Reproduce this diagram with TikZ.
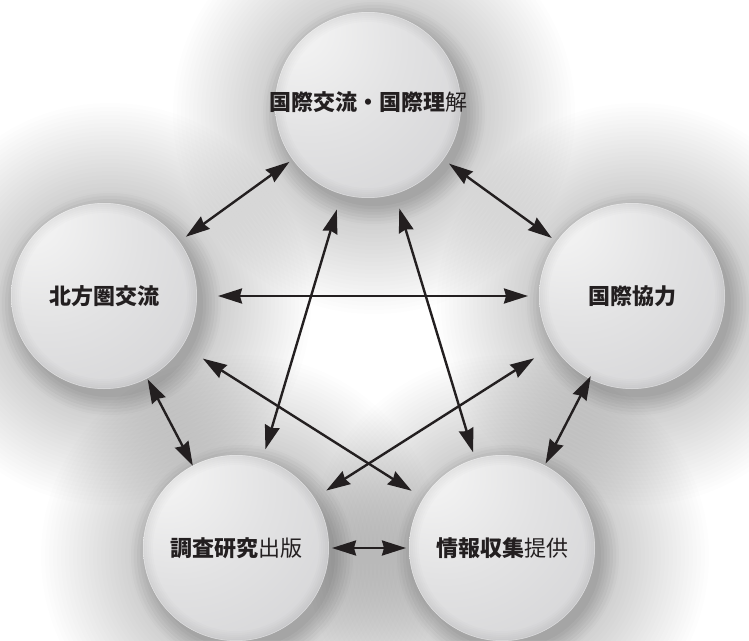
\documentclass[tikz,border=0pt]{standalone}
\usepackage{fontspec}
\newfontfamily\jp{Noto Sans CJK JP}
\usetikzlibrary{arrows.meta}
\definecolor{ink}{HTML}{231F20}
\definecolor{spA}{HTML}{F3F3F3}
\definecolor{spB}{HTML}{E2E2E3}
\definecolor{spC}{HTML}{D5D5D7}
\definecolor{spD}{HTML}{C6C6C9}
\definecolor{spE}{HTML}{B0B0B4}
\pgfdeclareradialshading{sph}{\pgfpoint{-22bp}{23bp}}{color(0bp)=(spA); color(5bp)=(spA); color(25bp)=(spB); color(45bp)=(spC); color(62bp)=(spD); color(82bp)=(spE)}
\tikzset{
  ball/.style={circle, minimum size=186pt, inner sep=0pt, outer sep=0pt, shade, shading=sph},
  lbl/.style={font=\jp\fontsize{22}{22}\selectfont, text=ink, inner sep=0pt},
  link/.style={draw=ink, line width=2.4pt, {Stealth[length=24pt 0 0,width=15pt 0 0,inset=2pt 0]}-{Stealth[length=24pt 0 0,width=15pt 0 0,inset=2pt 0]}},
}
\begin{document}
\begin{tikzpicture}[x=1pt,y=-1pt]
\useasboundingbox (0,0) rectangle (749,640);
\fill[white] (0,0) rectangle (749,640);
\coordinate (ctop) at (368,105);
\coordinate (cleft) at (104,296);
\coordinate (cright) at (632,296);
\coordinate (cbl) at (236,548);
\coordinate (cbr) at (502,548);
% soft shadows
\foreach \c in {ctop,cleft,cright,cbl,cbr}{
  \foreach \k in {0,...,27}{
    \pgfmathsetmacro\r{93+4*\k}
    \fill[black, opacity=0.008] ([shift={(6,8)}]\c) circle[radius=\r pt];
  }
  \foreach \k in {0,...,6}{
    \pgfmathsetmacro\r{93+3*\k}
    \fill[black, opacity=0.022] ([shift={(6,8)}]\c) circle[radius=\r pt];
  }
}
% spheres
\node[ball] (top) at (ctop) {};
\node[ball] (left) at (cleft) {};
\node[ball] (right) at (cright) {};
\node[ball] (bl) at (cbl) {};
\node[ball] (br) at (cbr) {};
\foreach \c in {ctop,cleft,cright,cbl,cbr}{
  \foreach \w in {2,4,...,10}{
    \draw[black, opacity=0.012, line width=\w pt] (\c) circle[radius={93-\w/2}];
  }
  \draw[white, opacity=0.35, line width=0.5pt] (\c) circle[radius=92.7];
}
% labels
\node[lbl] at ([yshift=3pt]top.center) {\bfseries 国際交流・国際理\mdseries 解};
\node[lbl] at (left.center) {\bfseries 北方圏交流};
\node[lbl] at (right.center) {\bfseries 国際協力};
\node[lbl] at (bl.center) {\bfseries 調査研究\mdseries 出版};
\node[lbl] at (br.center) {\bfseries 情報収集\mdseries 提供};
% connectors
\draw[link, shorten <=8pt, shorten >=4pt] (left) -- (top);
\draw[link, shorten <=7pt, shorten >=6pt] (top) -- (right);
\draw[link, shorten <=21pt, shorten >=11pt] (left) -- (right);
\draw[link, shorten <=1pt, shorten >=0pt] (left) -- (bl);
\draw[link, shorten <=24pt, shorten >=14pt] (left) -- (br);
\draw[link, shorten <=16pt, shorten >=10pt] (top) -- (bl);
\draw[link, shorten <=15pt, shorten >=7pt] (top) -- (br);
\draw[link, shorten <=23pt, shorten >=14pt] (right) -- (bl);
\draw[link, shorten <=-3pt, shorten >=2pt] (right) -- (br);
\draw[link, shorten <=3pt, shorten >=3pt] (bl) -- (br);
\end{tikzpicture}
\end{document}
